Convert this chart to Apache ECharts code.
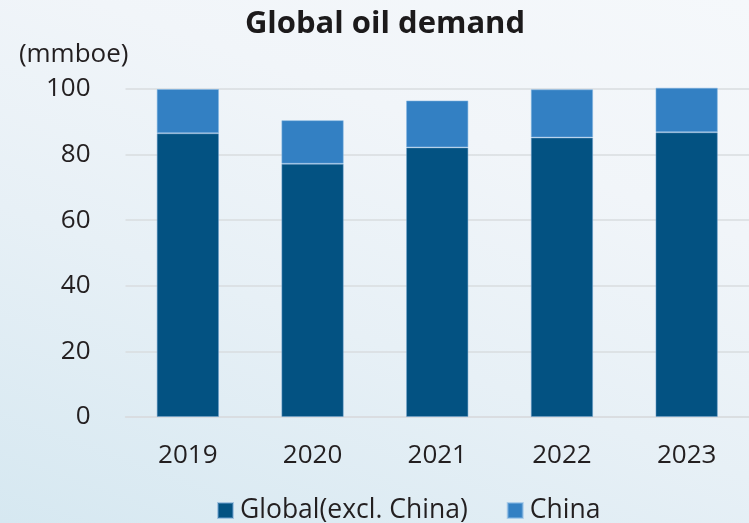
<!DOCTYPE html>
<html>
<head>
<meta charset="utf-8">
<script src="https://cdn.jsdelivr.net/npm/echarts@6/dist/echarts.min.js"></script>
<style>
  html, body { margin: 0; padding: 0; }
  #chart {
    width: 749px; height: 523px;
    background: linear-gradient(20deg, #d6e8f1 0%, #e7f0f6 40%, #f1f5f9 70%, #f5f8fb 100%);
  }
</style>
</head>
<body>
<div id="chart"></div>
<script>
// Oil demand by year, in million barrels of oil equivalent
const years = ['2019', '2020', '2021', '2022', '2023'];
const globalExChina = [86.5, 77.2, 82.2, 85.2, 86.8];
const china = [13.5, 13.3, 14.3, 14.7, 13.6];
const yTicks = { min: 0, max: 100, step: 20 };

const FONT = '"Open Sans", "Noto Sans", sans-serif';
const TEXT = '#231f20';

const chart = echarts.init(document.getElementById('chart'), null, { renderer: 'canvas' });
chart.setOption({
  backgroundColor: 'transparent',
  animation: false,
  title: {
    text: 'Global oil demand',
    left: 380,
    top: 4,
    textAlign: 'center',
    textStyle: { fontFamily: FONT, fontWeight: 'bold', fontSize: 31, color: '#1c1a1b' }
  },
  legend: {
    data: ['Global(excl. China)', 'China'],
    top: 497,
    left: 217,
    padding: 0,
    itemWidth: 15,
    itemHeight: 15,
    itemGap: 39,
    icon: 'rect',
    textStyle: { fontFamily: FONT, fontSize: 26.5, color: TEXT, padding: [0, 0, 0, 2] }
  },
  grid: { left: 125.5, width: 628, top: 89, height: 328 },
  xAxis: {
    type: 'category',
    data: years,
    axisLine: { show: true, lineStyle: { color: '#d9dcdf', width: 1.5 } },
    axisTick: { show: false },
    axisLabel: { fontFamily: FONT, fontSize: 26, color: TEXT, margin: 26 }
  },
  yAxis: {
    type: 'value',
    min: yTicks.min,
    max: yTicks.max,
    interval: yTicks.step,
    name: '(mmboe)',
    nameLocation: 'end',
    nameGap: 34,
    nameTextStyle: { fontFamily: FONT, fontSize: 26, color: TEXT, align: 'right', verticalAlign: 'middle', padding: [0, -3, 0, 0] },
    axisLine: { show: false },
    axisTick: { show: false },
    axisLabel: { fontFamily: FONT, fontSize: 26, color: TEXT, margin: 35 },
    splitLine: { lineStyle: { color: '#d9dcdf', width: 1.5 } }
  },
  series: [
    {
      name: 'Global(excl. China)',
      type: 'bar',
      stack: 'demand',
      barWidth: '50%',
      clip: false,
      data: globalExChina,
      itemStyle: { color: '#035282', borderColor: 'rgba(110,160,205,0.5)', borderWidth: 1 }
    },
    {
      name: 'China',
      type: 'bar',
      stack: 'demand',
      barWidth: '50%',
      clip: false,
      data: china,
      itemStyle: { color: '#3380c3', borderColor: 'rgba(130,180,225,0.55)', borderWidth: 1 }
    }
  ]
});
</script>
</body>
</html>
